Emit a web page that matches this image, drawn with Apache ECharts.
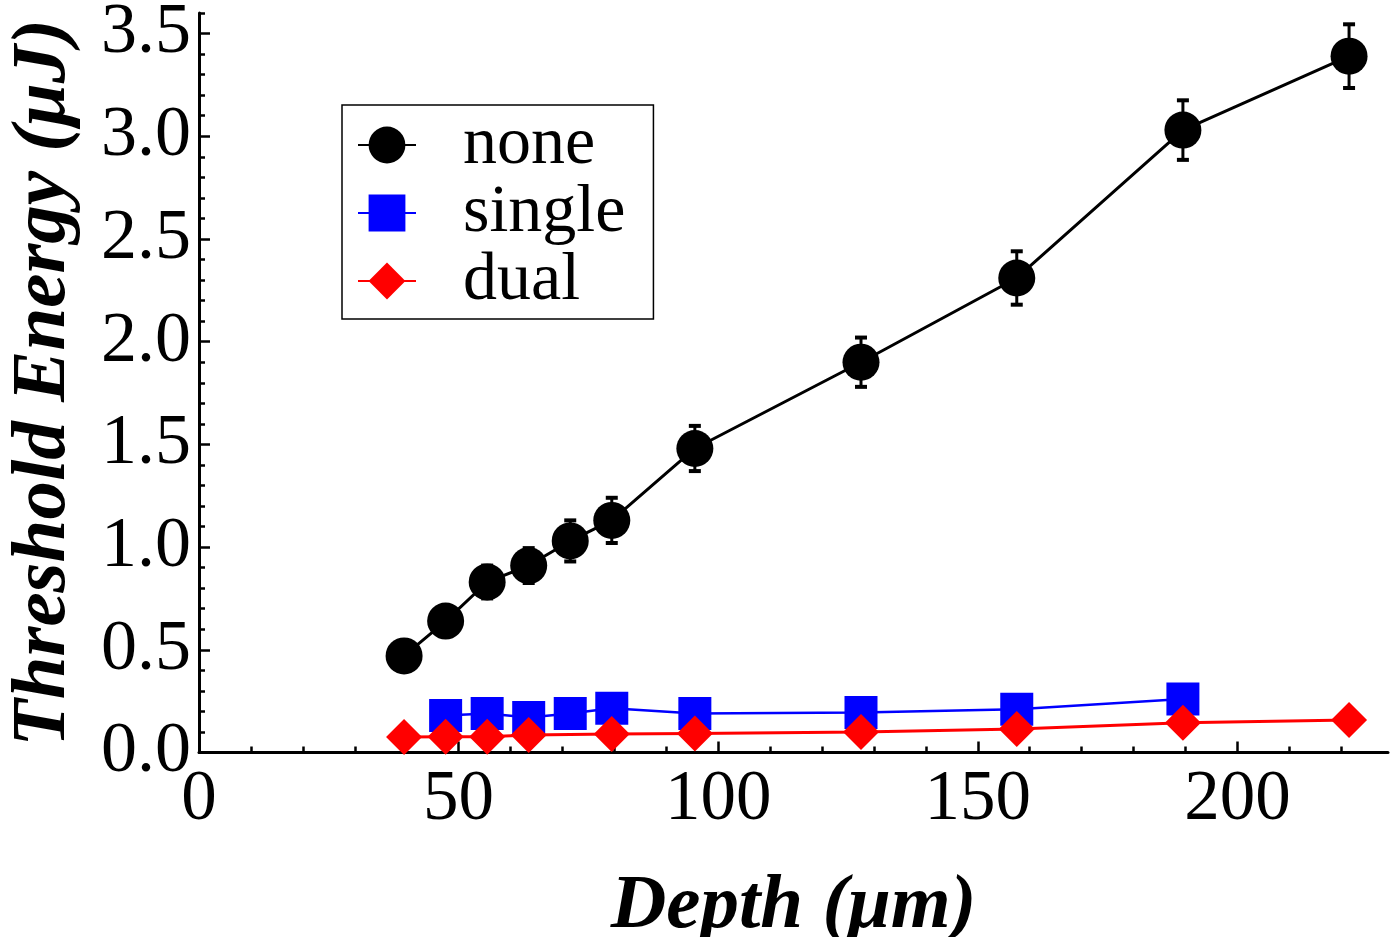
<!DOCTYPE html>
<html>
<head>
<meta charset="utf-8">
<script src="https://cdn.jsdelivr.net/npm/echarts@6/dist/echarts.min.js"></script>
<style>
html,body{margin:0;padding:0;background:#fff;}
#c{width:1391px;height:937px;}
</style>
</head>
<body>
<div id="c"></div>
<script>
// Depths (µm) and threshold energies (µJ)
const depthNone   = [39.5, 47.5, 55.5, 63.5, 71.5, 79.5, 95.5, 127.5, 157.5, 189.5, 221.5];
const energyNone  = [0.47, 0.64, 0.83, 0.91, 1.03, 1.13, 1.48, 1.90, 2.31, 3.03, 3.39];
const errNone     = [0.06, 0.07, 0.08, 0.085, 0.1, 0.11, 0.11, 0.12, 0.13, 0.145, 0.155];

const depthSingle  = [47.5, 55.5, 63.5, 71.5, 79.5, 95.5, 127.5, 157.5, 189.5];
const energySingle = [0.18, 0.19, 0.17, 0.19, 0.215, 0.19, 0.195, 0.21, 0.26];

const depthDual  = [39.5, 47.5, 55.5, 63.5, 79.5, 95.5, 127.5, 157.5, 189.5, 221.5];
const energyDual = [0.075, 0.077, 0.077, 0.085, 0.09, 0.093, 0.1, 0.115, 0.145, 0.158];

const xMajorTicks = [0, 50, 100, 150, 200];
const xMinorTicks = [10, 20, 30, 40, 60, 70, 80, 90, 110, 120, 130, 140, 160, 170, 180, 190, 210, 220];
const yMajorTicks = [0, 0.5, 1.0, 1.5, 2.0, 2.5, 3.0, 3.5];
const yMinorTicks = [0.1,0.2,0.3,0.4,0.6,0.7,0.8,0.9,1.1,1.2,1.3,1.4,1.6,1.7,1.8,1.9,2.1,2.2,2.3,2.4,2.6,2.7,2.8,2.9,3.1,3.2,3.3,3.4,3.6];

const seriesNames = ['none', 'single', 'dual'];
const xTitle = 'Depth (μm)';
const yTitle = 'Threshold Energy (μJ)';

const FONT = 'Liberation Serif';
const xMin = 0, xMax = 229, yMin = 0, yMax = 3.6;

function zip(a, b) { return a.map((v, i) => [v, b[i]]); }

const chart = echarts.init(document.getElementById('c'), null, {renderer: 'canvas'});

const majorAxisCommon = {
  axisLine: {show: true, onZero: false, lineStyle: {color: '#000', width: 3}},
  splitLine: {show: false}
};

chart.setOption({
  animation: false,
  backgroundColor: '#fff',
  grid: {left: 199, right: 3, top: 13, bottom: 184.5, containLabel: false, outerBoundsMode: 'none'},
  legend: {
    data: seriesNames,
    orient: 'vertical',
    left: 342, top: 105,
    padding: [6, 28, 4, 15],
    itemGap: 0,
    itemWidth: 58,
    itemHeight: 46,
    backgroundColor: '#fff',
    borderColor: '#000',
    borderWidth: 1.5,
    borderRadius: 0,
    textStyle: {fontFamily: FONT, fontSize: 68, color: '#000', lineHeight: 63, padding: [0, 0, 0, 42]}
  },
  xAxis: [{
    ...majorAxisCommon,
    type: 'value', min: xMin, max: xMax,
    position: 'bottom',
    axisTick: {show: true, inside: true, length: 11, customValues: xMajorTicks, lineStyle: {color: '#000', width: 2.5}},
    axisLabel: {show: true, customValues: xMajorTicks, margin: 12, fontFamily: FONT, fontSize: 71, color: '#000'},
    name: xTitle, nameLocation: 'middle', nameGap: 116,
    nameTextStyle: {fontFamily: FONT, fontSize: 77, fontWeight: 'bold', fontStyle: 'italic', color: '#000'}
  }, {
    type: 'value', min: xMin, max: xMax, position: 'bottom',
    axisLine: {show: false}, splitLine: {show: false}, axisLabel: {show: false},
    axisTick: {show: true, inside: true, length: 6, customValues: xMinorTicks, lineStyle: {color: '#000', width: 2.5}}
  }],
  yAxis: [{
    ...majorAxisCommon,
    type: 'value', min: yMin, max: yMax,
    position: 'left',
    axisTick: {show: true, inside: true, length: 11, customValues: yMajorTicks, lineStyle: {color: '#000', width: 2.5}},
    axisLabel: {show: true, customValues: yMajorTicks, margin: 8, fontFamily: FONT, fontSize: 72, color: '#000',
      formatter: v => v.toFixed(1)},
    name: yTitle, nameLocation: 'middle', nameGap: 116, nameRotate: 90,
    nameTextStyle: {fontFamily: FONT, fontSize: 77, fontWeight: 'bold', fontStyle: 'italic', color: '#000'}
  }, {
    type: 'value', min: yMin, max: yMax, position: 'left',
    axisLine: {show: false}, splitLine: {show: false}, axisLabel: {show: false},
    axisTick: {show: true, inside: true, length: 6, customValues: yMinorTicks, lineStyle: {color: '#000', width: 2.5}}
  }],
  series: [
    {
      name: 'none', type: 'line', data: zip(depthNone, energyNone),
      symbol: 'circle', symbolSize: 37,
      itemStyle: {color: '#000'}, lineStyle: {color: '#000', width: 3},
      z: 3
    },
    {
      name: 'noneErr', type: 'custom', data: depthNone.map((d, i) => [d, energyNone[i] - errNone[i], energyNone[i] + errNone[i]]),
      z: 4,
      renderItem: function (params, api) {
        const lo = api.coord([api.value(0), api.value(1)]);
        const hi = api.coord([api.value(0), api.value(2)]);
        const hw = 6;
        const st = {stroke: '#000', lineWidth: 3};
        return {type: 'group', children: [
          {type: 'line', shape: {x1: lo[0], y1: lo[1], x2: hi[0], y2: hi[1]}, style: st},
          {type: 'line', shape: {x1: lo[0] - hw, y1: lo[1], x2: lo[0] + hw, y2: lo[1]}, style: {stroke: '#000', lineWidth: 4}},
          {type: 'line', shape: {x1: hi[0] - hw, y1: hi[1], x2: hi[0] + hw, y2: hi[1]}, style: {stroke: '#000', lineWidth: 4}}
        ]};
      }
    },
    {
      name: 'single', type: 'line', data: zip(depthSingle, energySingle),
      symbol: 'rect', symbolSize: 33,
      itemStyle: {color: '#0000ff'}, lineStyle: {color: '#0000ff', width: 2.5},
      z: 5
    },
    {
      name: 'dual', type: 'line', data: zip(depthDual, energyDual),
      symbol: 'diamond', symbolSize: 36,
      itemStyle: {color: '#ff0000'}, lineStyle: {color: '#ff0000', width: 3},
      z: 6
    }
  ]
});
</script>
</body>
</html>
